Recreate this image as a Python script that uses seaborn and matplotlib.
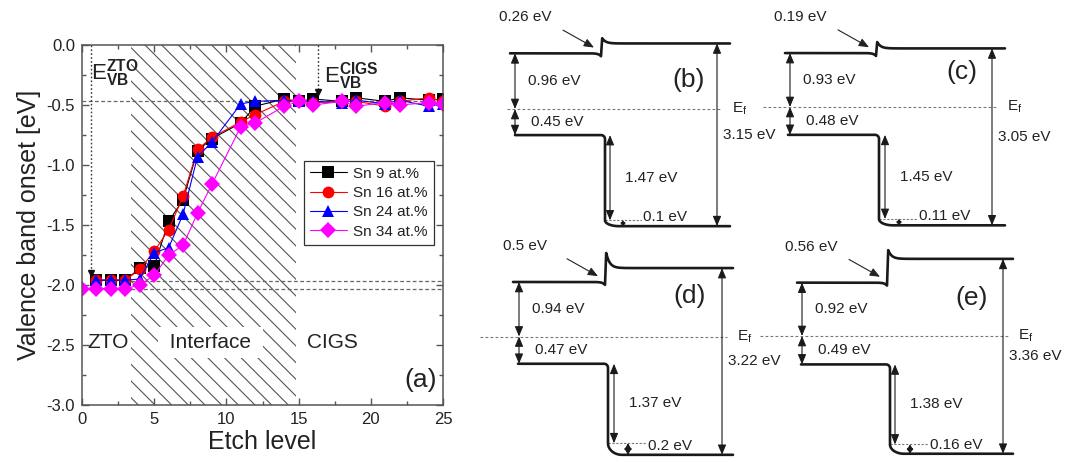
import numpy as np
import pandas as pd
import matplotlib
matplotlib.use("Agg")
import matplotlib.pyplot as plt
from matplotlib.ticker import MultipleLocator, FormatStrFormatter
import seaborn as sns

# ---------------------------------------------------------------- data
# valence band onset vs. etch level for the four Sn contents
etch_levels = [1, 2, 3, 4, 5, 6, 7, 8, 9, 11, 12, 14, 15, 16, 18, 19, 21, 22, 24, 25]
etch_levels_sn34 = [0] + etch_levels
sn9 = [-1.96, -1.96, -1.96, -1.86, -1.84, -1.47, -1.29, -0.88, -0.78, -0.65,
       -0.51, -0.45, -0.47, -0.45, -0.47, -0.44, -0.47, -0.44, -0.46, -0.45]
sn16 = [-1.96, -1.96, -1.96, -1.87, -1.72, -1.54, -1.26, -0.87, -0.77, -0.64,
        -0.58, -0.47, -0.47, -0.48, -0.47, -0.47, -0.51, -0.47, -0.44, -0.47]
sn24 = [-1.96, -1.96, -1.96, -1.95, -1.73, -1.69, -1.41, -0.93, -0.81, -0.49,
        -0.47, -0.46, -0.47, -0.47, -0.48, -0.46, -0.49, -0.46, -0.51, -0.49]
sn34 = [-2.03, -2.03, -2.03, -2.03, -2.00, -1.92, -1.75, -1.67, -1.40, -1.16, -0.68,
        -0.65, -0.51, -0.47, -0.50, -0.47, -0.51, -0.48, -0.50, -0.48, -0.49]
series_labels = ["Sn 9 at.%", "Sn 16 at.%", "Sn 24 at.%", "Sn 34 at.%"]
series_colors = ["#000000", "#ff0000", "#0000ff", "#ff00ff"]
series_markers = ["s", "o", "^", "D"]

# reference valence band maxima
vbm_cigs = -0.47
vbm_zto = [-1.97, -2.03]
interface_range = [3.4, 14.85]

# band alignment schematics (energies in eV, relative to E_f)
panel_tags = ["(b)", "(c)", "(d)", "(e)"]
cb_offset = [0.96, 0.93, 0.94, 0.92]     # E_c(ZTO) - E_f
vb_offset = [0.45, 0.48, 0.47, 0.49]     # E_f - E_v(ZTO)
vb_drop = [1.47, 1.45, 1.37, 1.38]       # valence band offset at the interface
vb_bend = [0.1, 0.11, 0.2, 0.16]         # band bending in CIGS
cigs_gap = [3.15, 3.05, 3.22, 3.36]      # right-hand span
cb_spike = [0.26, 0.19, 0.5, 0.56]       # conduction band spike

# ---------------------------------------------------------------- style
sns.set_theme(style="ticks")
plt.rcParams["font.family"] = ["Liberation Sans", "DejaVu Sans"]
plt.rcParams.update({
    "axes.unicode_minus": False,
    "mathtext.fontset": "custom",
    "mathtext.rm": "Liberation Sans",
    "mathtext.bf": "Liberation Sans:bold",
    "hatch.linewidth": 0.8,
    "hatch.color": "#555555",
    "axes.edgecolor": "#555555",
    "xtick.color": "#555555",
    "ytick.color": "#555555",
    "xtick.labelcolor": "#222222",
    "ytick.labelcolor": "#222222",
    "text.color": "#222222",
    "axes.labelcolor": "#222222",
})

W, H = 1070, 462
fig = plt.figure(figsize=(W / 100, H / 100), dpi=100)


def px_axes(left, top, width, height):
    return fig.add_axes([left / W, 1 - (top + height) / H, width / W, height / H])


# ---------------------------------------------------------------- (a)
ax = px_axes(82, 45, 361, 360)

frames = [pd.DataFrame({"etch": x, "vbo": y, "sample": lab})
          for x, y, lab in zip([etch_levels, etch_levels, etch_levels, etch_levels_sn34],
                               [sn9, sn16, sn24, sn34], series_labels)]
df = pd.concat(frames, ignore_index=True)

ax.axvspan(*interface_range, facecolor="none", edgecolor="#555555", hatch="\\\\",
           lw=0, zorder=0.5)
ax.axhline(vbm_cigs, color="#666666", lw=0.9, ls=(0, (3, 2)), zorder=1)
ax.hlines(vbm_zto, interface_range[0], 25, color="#666666", lw=0.9, ls=(0, (3, 2)), zorder=1)

sns.lineplot(data=df, x="etch", y="vbo", hue="sample", style="sample",
             palette=dict(zip(series_labels, series_colors)),
             markers=dict(zip(series_labels, series_markers)), dashes=False,
             hue_order=series_labels, style_order=series_labels,
             markersize=8.5, markeredgewidth=0, linewidth=0.8, errorbar=None, ax=ax)

# level markers with arrow tips
for x_mark, y_tip in [(0.6, vbm_zto[0] + 0.04), (16.37, vbm_cigs + 0.05)]:
    ax.plot([x_mark, x_mark], [0, y_tip + 0.05], color="#333333", lw=1.0, ls=(0, (1.2, 1.6)), zorder=3)
    ax.plot([x_mark], [y_tip + 0.03], marker="v", color="#111111", markersize=5, zorder=3)

ax.text(0.62, -0.23, r"$\mathrm{E}_{\mathbf{VB}}^{\mathbf{ZTO}}$", fontsize=16, va="center", ha="left")
ax.text(16.75, -0.26, r"$\mathrm{E}_{\mathbf{VB}}^{\mathbf{CIGS}}$", fontsize=16, va="center", ha="left")
ax.text(0.35, -2.48, "ZTO", fontsize=15, va="center", ha="left")
ax.text(8.9, -2.48, " Interface ", fontsize=15, va="center", ha="center",
        bbox=dict(boxstyle="square,pad=0.3", fc="white", ec="none"), zorder=4)
ax.text(15.6, -2.48, "CIGS", fontsize=15, va="center", ha="left")
ax.text(24.6, -2.79, "(a)", fontsize=19, va="center", ha="right")

ax.set_xlim(0, 25)
ax.set_ylim(-3.0, 0.0)
ax.xaxis.set_major_locator(MultipleLocator(5))
ax.xaxis.set_minor_locator(MultipleLocator(2.5))
ax.yaxis.set_major_locator(MultipleLocator(0.5))
ax.yaxis.set_minor_locator(MultipleLocator(0.25))
ax.yaxis.set_major_formatter(FormatStrFormatter("%.1f"))
ax.tick_params(which="both", direction="in", top=True, right=True, labelsize=12, width=1.0)
ax.tick_params(which="major", length=5, pad=5)
ax.tick_params(which="minor", length=3)
for sp in ax.spines.values():
    sp.set_linewidth(1.1)
ax.set_xlabel("Etch level", fontsize=18, labelpad=2)
ax.set_ylabel("Valence band onset [eV]", fontsize=18, labelpad=4)

sns.move_legend(ax, loc="upper left", bbox_to_anchor=(0.615, 0.679), borderaxespad=0,
                title=None, frameon=True, fancybox=False, framealpha=1, edgecolor="#333333",
                fontsize=11, handlelength=2.4, handletextpad=0.4, labelspacing=0.35,
                borderpad=0.4)
ax.get_legend().get_frame().set_linewidth(0.9)

# ---------------------------------------------------------------- (b)-(e)
PX_PER_EV = 58.0

layouts = [
    dict(left=470, top=0, h=240, ef=109, x0=40, vb0=45, xj=131, xv=135, x1=260,
         ar_l=45, ar_r=247, ar_drop=140, ar_bend=153, dot_end=217, ef0=37, tag=(219, 0.5)),
    dict(left=770, top=0, h=240, ef=107, x0=15, vb0=18, xj=106, xv=109, x1=235,
         ar_l=20, ar_r=222, ar_drop=115, ar_bend=129, dot_end=192, ef0=-7, tag=(192, 0.6)),
    dict(left=470, top=230, h=232, ef=106.5, x0=43, vb0=48, xj=135, xv=138, x1=263,
         ar_l=49, ar_r=252, ar_drop=144, ar_bend=158, dot_end=222, ef0=10, tag=(220, 0.69)),
    dict(left=770, top=230, h=232, ef=106, x0=27, vb0=31, xj=117, xv=120, x1=243,
         ar_l=32, ar_r=233, ar_drop=125, ar_bend=140, dot_end=203, ef0=-10, tag=(202, 0.66)),
]


def double_arrow(a, x, y0, y1):
    span_px = abs(y1 - y0) * PX_PER_EV
    hl = min(0.6, 0.45 * span_px / 13.9)
    hw = min(0.25, 0.45 * hl + 0.05)
    a.annotate("", xy=(x, y1), xytext=(x, y0),
               arrowprops=dict(arrowstyle=f"<|-|>,head_length={hl:.3f},head_width={hw:.3f}",
                               color="#1a1a1a", lw=0.8, shrinkA=0, shrinkB=0,
                               mutation_scale=10), annotation_clip=False)


def ev_label(v):
    return f"{v:g} eV"


def band_panel(a, cb, vb, drop, bend, gap, spike, tag, lay):
    top_ev = lay["ef"] / PX_PER_EV
    a.set_xlim(0, 300)
    a.set_ylim(top_ev - lay["h"] / PX_PER_EV, top_ev)
    a.axis("off")

    cb_l, vb_l = cb, -vb
    vb_r = vb_l - drop - bend
    cb_r = vb_r + gap
    peak = cb_l + spike
    xj, xv, x1 = lay["xj"], lay["xv"], lay["x1"]

    # conduction band with the interface spike
    xl = np.linspace(lay["x0"], xj, 120)
    yl = cb_l - 0.05 * np.exp(-(xj - xl) / 2.5)
    xr = np.linspace(xj + 1.2, x1, 400)
    yr = cb_r + (peak - cb_r) * np.exp(-(xr - xr[0]) / 3.5)
    a.plot(np.r_[xl, xr], np.r_[yl, yr], color="k", lw=1.9, clip_on=False,
           solid_joinstyle="round")

    # valence band: step, cliff and band bending
    r_px, r_ev = 4.0, 4.0 / PX_PER_EV
    t = np.linspace(np.pi / 2, 0, 20)
    corner_x = xv - r_px + r_px * np.cos(t)
    corner_y = vb_l - r_ev + r_ev * np.sin(t)
    bw = 14.0
    t2 = np.linspace(0, np.pi / 2, 40)
    bend_x = xv + bw - bw * np.cos(t2)
    bend_y = vb_r + bend - bend * np.sin(t2)
    vx = np.r_[lay["vb0"], corner_x, bend_x, x1]
    vy = np.r_[vb_l, corner_y, bend_y, vb_r]
    a.plot(vx, vy, color="k", lw=1.9, clip_on=False, solid_joinstyle="round", zorder=2.5)

    # Fermi level
    a.plot([lay["ef0"], lay["ar_r"] + 5], [0, 0], color="#777777", lw=0.8,
           ls=(0, (2.5, 2)), clip_on=False)
    a.text(lay["ar_r"] + 15, 0, r"$\mathrm{E}_{\mathrm{f}}$", fontsize=11, va="center", ha="left")

    # bending reference level
    a.plot([xv, lay["dot_end"]], [vb_r + bend] * 2, color="#777777", lw=0.8,
           ls=(0, (2, 1.5)), clip_on=False)

    double_arrow(a, lay["ar_l"], cb_l, 0)
    double_arrow(a, lay["ar_l"], 0, vb_l)
    double_arrow(a, lay["ar_r"], cb_r, vb_r)
    double_arrow(a, lay["ar_drop"], vb_l, vb_r + bend)
    double_arrow(a, lay["ar_bend"], vb_r + bend, vb_r)

    fs = 11
    a.text(lay["ar_l"] + 13, cb_l / 2, ev_label(cb), fontsize=fs, va="center")
    a.text(lay["ar_l"] + 16, vb_l / 2, ev_label(vb), fontsize=fs, va="center")
    a.text(lay["ar_drop"] + 15, vb_l - drop / 2, ev_label(drop), fontsize=fs, va="center")
    a.text(lay["ar_bend"] + 20, vb_r + 0.035, ev_label(bend), fontsize=fs, va="bottom",
           bbox=dict(boxstyle="square,pad=0.05", fc="white", ec="none"), zorder=2.2)
    a.text(lay["ar_r"] + 6, (cb_r + vb_r) / 2, ev_label(gap), fontsize=fs, va="center")
    a.text(lay["tag"][0], lay["tag"][1], tag, fontsize=19, ha="center", va="center")

    # spike call-out
    a.annotate("", xy=(xj - 7, cb_l + 0.1), xytext=(xj - 38, cb_l + 0.4),
               arrowprops=dict(arrowstyle="-|>,head_length=0.6,head_width=0.25",
                               color="#222222", lw=0.8, shrinkA=0, shrinkB=0,
                               mutation_scale=10), annotation_clip=False)
    a.text(xj - 102, cb_l + 0.62, ev_label(spike), fontsize=fs, va="center", ha="left")


for i, lay in enumerate(layouts):
    bax = px_axes(lay["left"], lay["top"], 300, lay["h"])
    band_panel(bax, cb_offset[i], vb_offset[i], vb_drop[i], vb_bend[i],
               cigs_gap[i], cb_spike[i], panel_tags[i], lay)

fig.savefig("out.png", dpi=100)
